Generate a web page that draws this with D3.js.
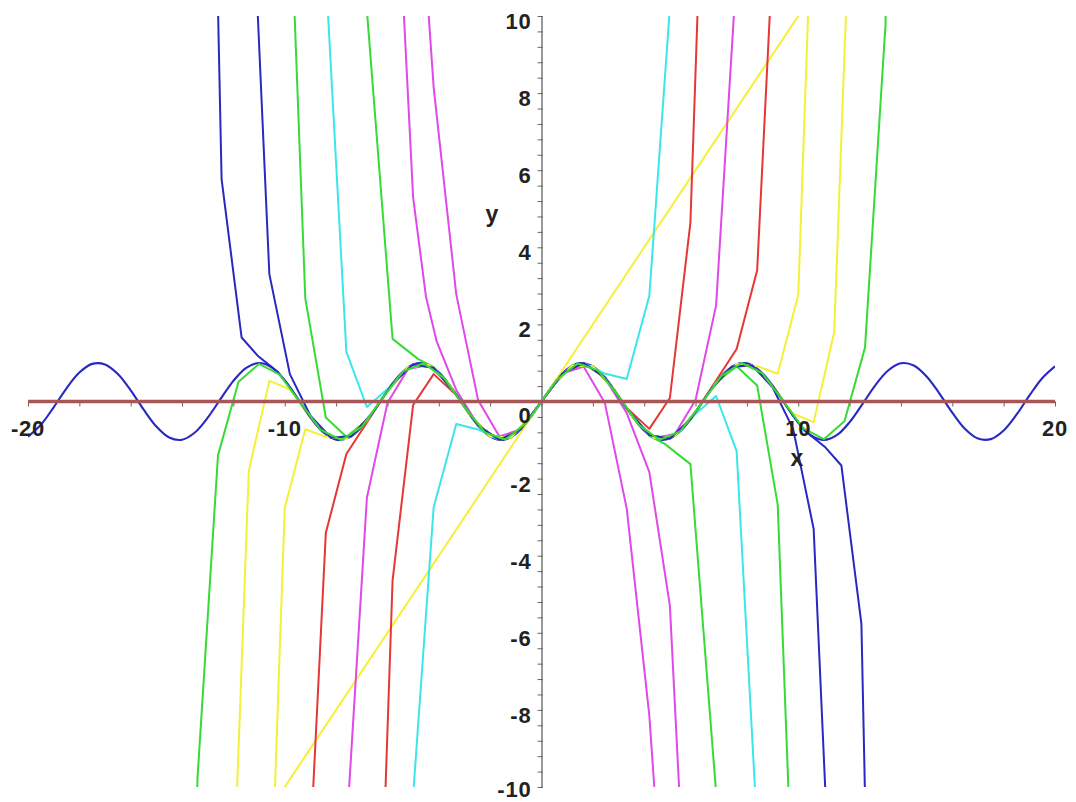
<!DOCTYPE html>
<html>
<head>
<meta charset="utf-8">
<script src="https://cdn.jsdelivr.net/npm/d3@7"></script>
<style>
  body { margin: 0; background: #fff; }
  text { font-family: "Liberation Sans", Arial, sans-serif; }
</style>
</head>
<body>
<div id="chart"></div>
<script>
// sin(x) and its Taylor polynomials
const sineCurve = [[-20,-0.913],[-19.5,-0.605],[-19,-0.150],[-18.5,0.343],[-18,0.751],[-17.5,0.976],[-17,0.961],[-16.5,0.712],[-16,0.288],[-15.5,-0.207],[-15,-0.650],[-14.5,-0.935],[-14,-0.991],[-13.5,-0.804],[-13,-0.420],[-12.5,0.066],[-12,0.537],[-11.5,0.875],[-11,1.000],[-10.5,0.880],[-10,0.544],[-9.5,0.075],[-9,-0.412],[-8.5,-0.798],[-8,-0.989],[-7.5,-0.938],[-7,-0.657],[-6.5,-0.215],[-6,0.279],[-5.5,0.706],[-5,0.959],[-4.5,0.978],[-4,0.757],[-3.5,0.351],[-3,-0.141],[-2.5,-0.598],[-2,-0.909],[-1.5,-0.997],[-1,-0.841],[-0.5,-0.479],[0,0],[0.5,0.479],[1,0.841],[1.5,0.997],[2,0.909],[2.5,0.598],[3,0.141],[3.5,-0.351],[4,-0.757],[4.5,-0.978],[5,-0.959],[5.5,-0.706],[6,-0.279],[6.5,0.215],[7,0.657],[7.5,0.938],[8,0.989],[8.5,0.798],[9,0.412],[9.5,-0.075],[10,-0.544],[10.5,-0.880],[11,-1.000],[11.5,-0.875],[12,-0.537],[12.5,-0.066],[13,0.420],[13.5,0.804],[14,0.991],[14.5,0.935],[15,0.650],[15.5,0.207],[16,-0.288],[16.5,-0.712],[17,-0.961],[17.5,-0.976],[18,-0.751],[18.5,-0.343],[19,0.150],[19.5,0.605],[20,0.913]];

const t0 = [[-20,0],[20,0]];
const t1 = [[-20,-20],[20,20]];
const t3 = [[-5.0,15.83],[-4.2,8.148],[-3.32,2.779],[-2.47,0.042],[-1.64,-0.905],[-0.82,-0.728],[0,0],[0.82,0.728],[1.64,0.905],[2.47,-0.042],[3.32,-2.779],[4.2,-8.148],[5.0,-15.83]];
const t5 = [[-5.0,-10.21],[-4.2,-2.743],[-3.32,-0.582],[-2.47,-0.724],[-1.64,-1.004],[-0.82,-0.731],[0,0],[0.82,0.731],[1.64,1.004],[2.47,0.724],[3.32,0.582],[4.2,2.743],[5.0,10.21]];
const t7 = [[-5.8,15.83],[-5.0,5.293],[-4.5,2.72],[-4.08,1.55],[-3.32,0.300],[-2.47,-0.613],[-1.64,-0.998],[-0.82,-0.731],[0,0],[0.82,0.731],[1.64,0.998],[2.47,0.613],[3.32,-0.300],[4.2,-1.831],[5.0,-5.293],[5.8,-15.83]];
const t9 = [[-6.6,-20.31],[-5.8,-4.639],[-5.0,-0.089],[-4.2,0.710],[-3.32,0.165],[-2.47,-0.622],[-1.64,-0.998],[-0.82,-0.731],[0,0],[0.82,0.731],[1.64,0.998],[2.47,0.622],[3.32,-0.165],[4.2,-0.710],[5.0,0.089],[5.8,4.639],[6.6,20.31]];
const t11 = [[-7.0,11.84],[-5.8,1.624],[-4.8,1.100],[-4.2,0.891],[-3.32,0.178],[-2.47,-0.622],[-1.64,-0.998],[-0.82,-0.731],[0,0],[0.82,0.731],[1.64,0.998],[2.47,0.622],[3.32,-0.178],[4.2,-0.891],[4.8,-1.100],[5.8,-1.624],[7.0,-11.84]];
const t13 = [[-7.6,-11.18],[-6.8,-2.494],[-6.0,-0.037],[-5.2,0.845],[-4.4,0.948],[-3.6,0.443],[-2.8,-0.335],[-2.0,-0.909],[-1.2,-0.932],[-0.4,-0.389],[0,0],[0.4,0.389],[1.2,0.932],[2.0,0.909],[2.8,0.335],[3.6,-0.443],[4.4,-0.948],[5.2,-0.845],[6.0,0.037],[6.8,2.494],[7.6,11.18]];
const t15 = [[-8.4,11.09],[-7.6,1.287],[-6.8,-0.143],[-6.0,0.322],[-5.2,0.888],[-4.4,0.952],[-3.6,0.443],[-2.8,-0.335],[-2.0,-0.909],[-1.2,-0.932],[-0.4,-0.389],[0,0],[0.4,0.389],[1.2,0.932],[2.0,0.909],[2.8,0.335],[3.6,-0.443],[4.4,-0.952],[5.2,-0.888],[6.0,-0.322],[6.8,0.143],[7.6,-1.287],[8.4,-11.09]];
const t17 = [[-9.2,-14.18],[-8.4,-3.407],[-7.6,-1.360],[-6.8,-0.543],[-6.0,0.274],[-5.2,0.884],[-4.4,0.952],[-3.6,0.443],[-2.8,-0.335],[-2.0,-0.909],[-1.2,-0.932],[-0.4,-0.389],[0,0],[0.4,0.389],[1.2,0.932],[2.0,0.909],[2.8,0.335],[3.6,-0.443],[4.4,-0.952],[5.2,-0.884],[6.0,-0.274],[6.8,0.543],[7.6,1.360],[8.4,3.407],[9.2,14.18]];
const t19 = [[-10.0,16.81],[-9.2,2.677],[-8.4,-0.415],[-7.6,-0.913],[-6.8,-0.488],[-6.0,0.279],[-5.2,0.884],[-4.4,0.952],[-3.6,0.443],[-2.8,-0.335],[-2.0,-0.909],[-1.2,-0.932],[-0.4,-0.389],[0,0],[0.4,0.389],[1.2,0.932],[2.0,0.909],[2.8,0.335],[3.6,-0.443],[4.4,-0.952],[5.2,-0.884],[6.0,-0.279],[6.8,0.488],[7.6,0.913],[8.4,0.415],[9.2,-2.677],[10.0,-16.81]];
const t21 = [[-10.8,-17.96],[-10.0,-2.762],[-9.2,-0.721],[-8.4,-0.917],[-7.6,-0.975],[-6.8,-0.494],[-6.0,0.279],[-5.2,0.884],[-4.4,0.952],[-3.6,0.443],[-2.8,-0.335],[-2.0,-0.909],[-1.2,-0.932],[-0.4,-0.389],[0,0],[0.4,0.389],[1.2,0.932],[2.0,0.909],[2.8,0.335],[3.6,-0.443],[4.4,-0.952],[5.2,-0.884],[6.0,-0.279],[6.8,0.494],[7.6,0.975],[8.4,0.917],[9.2,0.721],[10.0,2.762],[10.8,17.96]];
const t23 = [[-11.4,15.25],[-10.6,3.304],[-9.8,0.709],[-9.0,-0.371],[-8.2,-0.936],[-7.4,-0.899],[-6.6,-0.312],[-5.8,0.465],[-5.0,0.959],[-4.2,0.872],[-3.32,0.177],[-2.47,-0.622],[-1.64,-0.998],[-0.82,-0.731],[0,0],[0.82,0.731],[1.64,0.998],[2.47,0.622],[3.32,-0.177],[4.2,-0.872],[5.0,-0.959],[5.8,-0.465],[6.6,0.312],[7.4,0.899],[8.2,0.936],[9.0,0.371],[9.8,-0.709],[10.6,-3.304],[11.4,-15.25]];
const t25 = [[-12.2,-16.23],[-11.4,-1.794],[-10.6,0.535],[-9.8,0.319],[-9.0,-0.417],[-8.2,-0.941],[-7.4,-0.899],[-6.6,-0.312],[-5.8,0.465],[-5.0,0.959],[-4.2,0.872],[-3.32,0.177],[-2.47,-0.622],[-1.64,-0.998],[-0.82,-0.731],[0,0],[0.82,0.731],[1.64,0.998],[2.47,0.622],[3.32,-0.177],[4.2,-0.872],[5.0,-0.959],[5.8,-0.465],[6.6,0.312],[7.4,0.899],[8.2,0.941],[9.0,0.417],[9.8,-0.319],[10.6,-0.535],[11.4,1.794],[12.2,16.23]];
const t27 = [[-13.2,29.2],[-12.46,5.77],[-11.68,1.66],[-11.03,1.172],[-10.25,0.755],[-9.8,0.373],[-9.0,-0.412],[-8.2,-0.941],[-7.4,-0.899],[-6.6,-0.312],[-5.8,0.465],[-5.0,0.959],[-4.2,0.872],[-3.32,0.177],[-2.47,-0.622],[-1.64,-0.998],[-0.82,-0.731],[0,0],[0.82,0.731],[1.64,0.998],[2.47,0.622],[3.32,-0.177],[4.2,-0.872],[5.0,-0.959],[5.8,-0.465],[6.6,0.312],[7.4,0.899],[8.2,0.941],[9.0,0.412],[9.8,-0.373],[10.25,-0.755],[11.03,-1.172],[11.68,-1.66],[12.46,-5.77],[13.2,-29.2]];
const t29 = [[-14.2,-54.47],[-13.4,-9.79],[-12.6,-1.398],[-11.8,0.512],[-11.0,0.979],[-10.2,0.698],[-9.4,-0.025],[-8.6,-0.734],[-7.8,-0.999],[-7.0,-0.657],[-6.2,0.083],[-5.4,0.773],[-4.6,0.994],[-3.8,0.612],[-3.0,-0.141],[-2.2,-0.808],[-1.4,-0.985],[-0.6,-0.565],[0,0],[0.6,0.565],[1.4,0.985],[2.2,0.808],[3.0,0.141],[3.8,-0.612],[4.6,-0.994],[5.4,-0.773],[6.2,-0.083],[7.0,0.657],[7.8,0.999],[8.6,0.734],[9.4,0.025],[10.2,-0.698],[11.0,-0.979],[11.8,-0.512],[12.6,1.398],[13.4,9.79],[14.2,54.47]];

const yTickLabels = [10, 8, 6, 4, 2, 0, -2, -4, -6, -8, -10];
const xTickLabels = [-20, -10, 10, 20];

const BLUE = "#2828c2", GREEN = "#38da38", YELLOW = "#f4f036", CYAN = "#3ae6ea",
      MAGENTA = "#e048e8", RED = "#e63636", BROWN = "#a85656";

const polyData   = [t1, t3, t5, t7, t9, t11, t13, t15, t17, t19, t21, t23, t25, t27, t29];
const polyColors = [YELLOW, MAGENTA, CYAN, MAGENTA, RED, GREEN, MAGENTA, CYAN, RED, GREEN, YELLOW, BLUE, YELLOW, BLUE, GREEN];

const W = 1076, H = 802;
let svg = d3.select("#chart").append("svg").attr("width", W).attr("height", H);

const x = d3.scaleLinear().domain([-20, 20]).range([28, 1055]);
const y = d3.scaleLinear().domain([-10, 10]).range([787, 16]);

svg.append("clipPath").attr("id", "plotClip")
    .append("rect")
    .attr("x", x(-20)).attr("y", y(10))
    .attr("width", x(20) - x(-20)).attr("height", y(-10) - y(10));

// axes: ticks only, the labels are drawn further down
svg.append("g")
    .attr("transform", `translate(${x(0)},0)`)
    .call(d3.axisLeft(y).tickValues(d3.range(-10, 10.01, 0.4)).tickSize(4).tickSizeOuter(0).tickFormat(""))
    .call(g => g.select(".domain").attr("stroke", "#555").attr("stroke-width", 1.2))
    .call(g => g.selectAll(".tick line").attr("stroke", "#666").attr("x2", -4).attr("x1", 1.5));

svg.append("g")
    .attr("transform", `translate(0,${y(0)})`)
    .call(d3.axisBottom(x).tickValues(d3.range(-20, 20.01, 2)).tickSize(5).tickSizeOuter(0).tickFormat(""))
    .call(g => g.select(".domain").attr("stroke", "#555"))
    .call(g => g.selectAll(".tick line").attr("stroke", "#666"));

const plot = svg.append("g").attr("clip-path", "url(#plotClip)");

const line = d3.line().x(d => x(d[0])).y(d => y(d[1]));

plot.append("path")
    .datum(sineCurve)
    .attr("d", line.curve(d3.curveCatmullRom))
    .attr("fill", "none").attr("stroke", BLUE).attr("stroke-width", 2.1);

line.curve(d3.curveLinear);
polyData.forEach((pts, i) => {
    plot.append("path")
        .datum(pts)
        .attr("d", line)
        .attr("fill", "none")
        .attr("stroke", polyColors[i])
        .attr("stroke-width", 2)
        .attr("stroke-linejoin", "round");
});

// degree 0 term: the flat line on y = 0
plot.append("path")
    .datum(t0)
    .attr("d", line)
    .attr("stroke", BROWN).attr("stroke-width", 3.5).attr("fill", "none");

// tick labels
svg.selectAll(".ylab")
    .data(yTickLabels)
    .enter().append("text")
    .attr("class", "ylab")
    .attr("x", x(0) - 10)
    .attr("y", d => d === 0 ? y(0) + 21 : (d === -10 ? y(d) + 10 : y(d) + 13))
    .attr("text-anchor", "end")
    .attr("font-size", 22).attr("font-weight", "bold").attr("letter-spacing", 0.8).attr("fill", "#222")
    .text(d => d);

svg.selectAll(".xlab")
    .data(xTickLabels)
    .enter().append("text")
    .attr("class", "xlab")
    .attr("x", d => x(d))
    .attr("y", y(0) + 34)
    .attr("text-anchor", "middle")
    .attr("font-size", 22).attr("font-weight", "bold").attr("letter-spacing", 0.8).attr("fill", "#222")
    .text(d => d);

svg.append("text").attr("x", 797).attr("y", 466).attr("text-anchor", "middle")
    .attr("font-size", 23).attr("font-weight", "bold").attr("fill", "#222").text("x");
svg.append("text").attr("x", 492).attr("y", 222).attr("text-anchor", "middle")
    .attr("font-size", 23).attr("font-weight", "bold").attr("fill", "#222").text("y");
</script>
</body>
</html>
